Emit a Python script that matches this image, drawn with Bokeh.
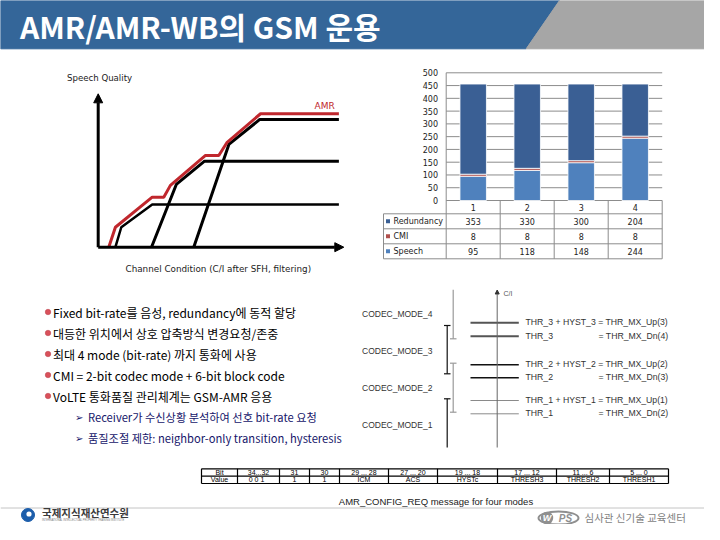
from bokeh.plotting import figure
from bokeh.models import Range1d, ColumnDataSource, Arrow, NormalHead
from bokeh.core.properties import value
from bokeh.embed import file_html
from bokeh.resources import INLINE

# ---------------- data ----------------
title_text = "AMR/AMR-WB의 GSM 운용"

# speech quality schematic (C/I units 0..100, quality units 0..100)
mode1_ci = [7.0, 9.4, 22.0, 98.0]
mode1_q = [0.0, 13.0, 27.8, 27.8]
mode2_ci = [21.7, 31.8, 43.3, 98.0]
mode2_q = [0.0, 40.9, 56.1, 56.1]
mode3_ci = [38.9, 53.2, 65.8, 98.0]
mode3_q = [0.0, 67.0, 83.3, 83.3]
amr_ci = [4.3, 7.0, 22.0, 26.7, 29.4, 43.7, 49.1, 52.5, 66.1, 98.0]
amr_q = [0.0, 13.0, 32.6, 32.6, 40.3, 59.8, 59.8, 68.4, 87.0, 87.0]
quality_label = "Speech Quality"
condition_label = "Channel Condition (C/I after SFH, filtering)"
amr_label = "AMR"

bar_categories = [1, 2, 3, 4]
redundancy = [353, 330, 300, 204]
cmi = [8, 8, 8, 8]
speech = [95, 118, 148, 244]
bar_ticks = [0, 50, 100, 150, 200, 250, 300, 350, 400, 450, 500]
series_names = ["Redundancy", "CMI", "Speech"]

bullets = [
    "Fixed bit-rate를 음성, redundancy에 동적 할당",
    "대등한 위치에서 상호 압축방식 변경요청/존중",
    "최대 4 mode (bit-rate) 까지 통화에 사용",
    "CMI = 2-bit codec mode + 6-bit block code",
    "VoLTE 통화품질 관리체계는 GSM-AMR 응용",
]
sub_bullets = [
    "Receiver가 수신상황 분석하여 선호 bit-rate 요청",
    "품질조절 제한: neighbor-only transition, hysteresis",
]

codec_modes = ["CODEC_MODE_4", "CODEC_MODE_3", "CODEC_MODE_2", "CODEC_MODE_1"]
thr_left = ["THR_3 + HYST_3 = THR_MX_Up(3)", "THR_3",
            "THR_2 + HYST_2 = THR_MX_Up(2)", "THR_2",
            "THR_1 + HYST_1 = THR_MX_Up(1)", "THR_1"]
thr_right = ["", "= THR_MX_Dn(4)", "", "= THR_MX_Dn(3)", "", "= THR_MX_Dn(2)"]
ci_label = "C/I"

cfg_bits = ["Bit", "34...32", "31", "30", "29 ... 28", "27 ... 20",
            "19 ... 18", "17 ... 12", "11 ... 6", "5 ... 0"]
cfg_values = ["Value", "0  0  1", "1", "1", "ICM", "ACS",
              "HYSTc", "THRESH3", "THRESH2", "THRESH1"]
cfg_caption = "AMR_CONFIG_REQ message for four modes"

footer_left = "국제지식재산연수원"
footer_left_sub = "INTERNATIONAL INTELLECTUAL PROPERTY TRAINING INSTITUTE"
footer_right = "심사관 신기술 교육센터"

# ---------------- styles ----------------
BLUE_TITLE = "#346699"
GRAY_TITLE = "#a6a6a6"
C_RED = "#3a5f94"
C_CMI = "#b0504d"
C_SPEECH = "#4f81bd"
GRID = "#8c8c8c"
KR = value("Noto Sans CJK KR")
SANS = value("Liberation Sans")
DJV = value("DejaVu Sans")

# ---------------- canvas ----------------
W, H = 704, 524
X0, X1, Y0, Y1 = 0, 704, 0, 524


def map_range(p0, v0, p1, v1, lo, hi):
    k = (v1 - v0) / (p1 - p0)
    return Range1d(start=v0 + (lo - p0) * k, end=v0 + (hi - p0) * k)


p = figure(width=W, height=H, x_range=Range1d(X0, X1), y_range=Range1d(Y1, Y0),
           output_backend="svg", toolbar_location=None, min_border=0,
           x_axis_location=None, y_axis_location=None)
p.grid.visible = False
p.outline_line_color = None
p.background_fill_color = "white"
p.border_fill_color = "white"

p.extra_x_ranges = {
    "qx": map_range(97.7, 0, 343.3, 100, X0, X1),
    "bx": map_range(445.7, 0.5, 661.7, 4.5, X0, X1),
}
p.extra_y_ranges = {
    "qy": map_range(246.7, 0, 93.3, 100, Y1, Y0),
    "by": map_range(200.0, 0, 72.3, 500, Y1, Y0),
}

# ---------------- title bar ----------------
p.patch([0, 559, 525.7, 0], [0, 0, 48.3, 48.3], fill_color=BLUE_TITLE, line_color=BLUE_TITLE)
p.patch([559, 720, 720, 525.7], [0, 0, 48.3, 48.3], fill_color=GRAY_TITLE, line_color=GRAY_TITLE)
p.text(x=[19.5], y=[25], text=[title_text], text_font=KR, text_font_style="bold",
       text_font_size="30px", text_color="white", text_baseline="middle")

# ---------------- speech quality schematic ----------------
qr = dict(x_range_name="qx", y_range_name="qy")
p.line(mode1_ci, mode1_q, line_color="black", line_width=2.5, **qr)
p.line(mode2_ci, mode2_q, line_color="black", line_width=3, **qr)
p.line(mode3_ci, mode3_q, line_color="black", line_width=3, **qr)
p.line(amr_ci, amr_q, line_color="#c0272d", line_width=3, **qr)
p.add_layout(Arrow(x_start=0, y_start=0, x_end=0, y_end=100, line_width=3,
                   end=NormalHead(size=9, fill_color="black", line_color="black"), **qr))
p.add_layout(Arrow(x_start=0, y_start=0, x_end=100, y_end=0, line_width=3,
                   end=NormalHead(size=9, fill_color="black", line_color="black"), **qr))
p.text(x=[66.5], y=[77], text=[quality_label], text_font=DJV, text_font_size="8.6px",
       text_color="#222222", text_baseline="middle")
p.text(x=[314], y=[105.5], text=[amr_label], text_font=DJV, text_font_size="9px",
       text_color="#c0272d", text_baseline="middle")
p.text(x=[125], y=[268], text=[condition_label], text_font=DJV, text_font_size="8.8px",
       text_color="#222222", text_baseline="middle")

# ---------------- stacked bar chart ----------------
br = dict(x_range_name="bx", y_range_name="by")
p.segment(x0=[0.5] * len(bar_ticks), x1=[4.5] * len(bar_ticks), y0=bar_ticks, y1=bar_ticks,
          line_color=GRID, line_width=1, **br)
src = ColumnDataSource(dict(cat=bar_categories, speech=speech, cmi=cmi, redundancy=redundancy))
p.vbar_stack(["speech", "cmi", "redundancy"], x="cat", width=0.49,
             fill_color=[C_SPEECH, C_CMI, C_RED], line_color="white", line_width=0.8,
             source=src, **br)
p.text(x=[437.5] * len(bar_ticks), y=bar_ticks, text=[str(t) for t in bar_ticks],
       text_font=DJV, text_font_size="8px", text_color="#222222",
       text_align="right", text_baseline="middle", y_range_name="by")

# data table under the bars
row_edges = [200.0, 213.3, 228.3, 243.3, 258.3]
p.segment(x0=[0.5, 1.5, 2.5, 3.5, 4.5], x1=[0.5, 1.5, 2.5, 3.5, 4.5],
          y0=[72.3] + [200.0] * 4, y1=[258.3] * 5, line_color=GRID, line_width=1,
          x_range_name="bx")
p.segment(x0=[383] * 4, x1=[661.7] * 4, y0=row_edges[1:], y1=row_edges[1:],
          line_color=GRID, line_width=1)
p.segment(x0=[383], x1=[383], y0=[213.3], y1=[258.3], line_color=GRID, line_width=1)
row_mid = [(row_edges[i] + row_edges[i + 1]) / 2 for i in range(4)]
p.text(x=bar_categories, y=[row_mid[0]] * 4, text=[str(c) for c in bar_categories],
       text_font=DJV, text_font_size="8px", text_color="#222222",
       text_align="center", text_baseline="middle", x_range_name="bx")
for vals, ym in zip([redundancy, cmi, speech], row_mid[1:]):
    p.text(x=bar_categories, y=[ym] * 4, text=[str(v) for v in vals],
           text_font=DJV, text_font_size="8px", text_color="#222222",
           text_align="center", text_baseline="middle", x_range_name="bx")
p.rect(x=[387.5] * 3, y=row_mid[1:], width=4, height=4,
       fill_color=[C_RED, C_CMI, C_SPEECH], line_color=None)
p.text(x=[393] * 3, y=row_mid[1:], text=series_names, text_font=DJV, text_font_size="8px",
       text_color="#222222", text_baseline="middle")

# ---------------- bullets ----------------
by_ = [311.5 + 21 * i for i in range(len(bullets))]
p.scatter(x=[47.5] * len(bullets), y=by_, size=5.5, marker="circle",
          fill_color="#d9505a", line_color="#b8404a", line_width=0.5)
p.text(x=[52.5] * len(bullets), y=by_, text=bullets, text_font=KR, text_font_size="12px",
       text_color="black", text_baseline="middle")
sy = [by_[-1] + 21 * (i + 1) for i in range(len(sub_bullets))]
p.text(x=[74.5] * len(sub_bullets), y=sy, text=["➢"] * len(sub_bullets), text_font=DJV,
       text_font_size="10px", text_color="#15156a", text_baseline="middle")
p.text(x=[87.5] * len(sub_bullets), y=sy, text=sub_bullets, text_font=KR,
       text_font_size="11.2px", text_color="#15156a", text_baseline="middle")

# ---------------- codec mode diagram ----------------
p.add_layout(Arrow(x_start=496.7, y_start=447, x_end=496.7, y_end=289.5, line_width=1,
                   line_color="#666666",
                   end=NormalHead(size=4, fill_color="#333333", line_color="#333333")))
p.text(x=[503], y=[293], text=[ci_label], text_font=SANS, text_font_size="7px",
       text_color="#555555", text_baseline="middle")
thr_y = [322.3, 335.7, 364.3, 377.3, 400.0, 413.3]
thr_col = ["#555555", "#555555", "#111111", "#111111", "#8a8a8a", "#8a8a8a"]
thr_w = [2, 2, 1.4, 1.4, 1, 1]
p.segment(x0=[470] * 6, x1=[518.3] * 6, y0=thr_y, y1=thr_y, line_color=thr_col, line_width=thr_w)
p.text(x=[525] * 6, y=[y - 0.5 for y in thr_y], text=thr_left, text_font=SANS,
       text_font_size="8.7px", text_color="#333333", text_baseline="middle")
p.text(x=[598] * 6, y=[y - 0.5 for y in thr_y], text=thr_right, text_font=SANS,
       text_font_size="8.7px", text_color="#333333", text_baseline="middle")
p.text(x=[361.5] * 4, y=[313.3, 350.0, 387.3, 424.3], text=codec_modes, text_font=SANS,
       text_font_size="8.5px", text_color="#333333", text_baseline="middle")
# brackets
p.segment(x0=[452.7, 446.7, 452.7, 446.7], x1=[452.7, 446.7, 452.7, 446.7],
          y0=[289.3, 325.0, 362.7, 398.3], y1=[338.3, 373.3, 411.7, 447.0],
          line_color=["#9a9a9a", "#111111", "#9a9a9a", "#111111"], line_width=1.2)
p.segment(x0=[449.5, 443.5, 443.5, 449.5, 449.5, 443.5],
          x1=[456.0, 450.0, 450.0, 456.0, 456.0, 450.0],
          y0=[338.3, 325.0, 373.3, 362.7, 411.7, 398.3],
          y1=[338.3, 325.0, 373.3, 362.7, 411.7, 398.3],
          line_color=["#9a9a9a", "#111111", "#111111", "#9a9a9a", "#9a9a9a", "#111111"],
          line_width=1.2)

# ---------------- AMR_CONFIG_REQ table ----------------
col_edges = [201, 237, 279, 309, 339, 388, 437, 497, 556, 609, 668]
tr = [468.3, 475.7, 483.0]
p.segment(x0=[col_edges[0]] * 3, x1=[col_edges[-1]] * 3, y0=tr, y1=tr,
          line_color="black", line_width=1.2)
p.segment(x0=col_edges, x1=col_edges, y0=[tr[0]] * len(col_edges), y1=[tr[2]] * len(col_edges),
          line_color="black", line_width=1.2)
cx = [(col_edges[i] + col_edges[i + 1]) / 2 for i in range(len(col_edges) - 1)]
p.text(x=cx, y=[(tr[0] + tr[1]) / 2] * len(cx), text=cfg_bits, text_font=SANS,
       text_font_size="7px", text_color="black", text_align="center", text_baseline="middle")
p.text(x=cx, y=[(tr[1] + tr[2]) / 2] * len(cx), text=cfg_values, text_font=SANS,
       text_font_size="7px", text_color="black", text_align="center", text_baseline="middle")
p.text(x=[435.5], y=[500.5], text=[cfg_caption], text_font=SANS, text_font_size="9.5px",
       text_color="#222222", text_align="center", text_baseline="middle")

# ---------------- footer (lifted slightly to stay inside the page) ----------------
FY = -8
p.segment(x0=[0], x1=[720], y0=[515.5 + FY], y1=[515.5 + FY], line_color="#c4c4c4", line_width=1)
p.circle(x=[27.5], y=[522.5 + FY], radius=6.5, fill_color="#1d5eab", line_color="#1d5eab")
p.circle(x=[28.5], y=[521.5 + FY], radius=2.6, fill_color="white", line_color=None)
p.text(x=[41.5], y=[520 + FY], text=[footer_left], text_font=KR, text_font_style="bold",
       text_font_size="10.5px", text_color="#3a3a3a", text_baseline="middle")
p.text(x=[41.5], y=[527.5 + FY], text=[footer_left_sub], text_font=SANS, text_font_size="2.6px",
       text_color="#777777", text_baseline="middle")
p.ellipse(x=[558], y=[525.5 + FY], width=40, height=13, fill_color=None, line_color="#8f8f8f",
          line_width=2)
p.circle(x=[546.5], y=[525.5 + FY], radius=6.2, fill_color="#8f8f8f", line_color=None)
p.text(x=[546.5], y=[525.8 + FY], text=["W"], text_font=SANS, text_font_style="bold italic",
       text_font_size="9px", text_color="white", text_align="center", text_baseline="middle")
p.text(x=[565], y=[525.8 + FY], text=["PS"], text_font=SANS, text_font_style="bold italic",
       text_font_size="10px", text_color="#8f8f8f", text_align="center", text_baseline="middle")
p.text(x=[584], y=[524.5 + FY], text=[footer_right], text_font=KR, text_font_size="10.5px",
       text_color="#7f7f7f", text_baseline="middle")

open("out.html", "w").write(file_html(p, INLINE))
